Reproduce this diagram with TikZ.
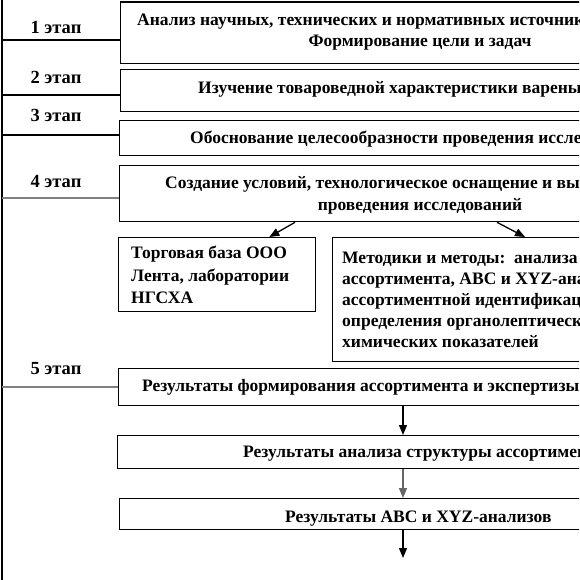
\documentclass[tikz,border=0pt]{standalone}
\usepackage{fontspec}
\setmainfont{Liberation Serif}
\usetikzlibrary{arrows.meta}
\tikzset{
  box/.style={draw, line width=1.3pt, rectangle, inner sep=0pt, anchor=north west},
  txt/.style={inner sep=0pt, font=\bfseries\fontsize{17.5}{21}\selectfont},
  lt/.style={txt, anchor=base west},
  ct/.style={txt, anchor=base},
  stg/.style={inner sep=0pt, anchor=base, font=\bfseries\fontsize{18.5}{21}\selectfont},
  sep/.style={line width=1.3pt},
  gsep/.style={line width=1.8pt, draw=black!50},
  arr/.style={line width=1.3pt, -{Triangle[length=10pt,width=8pt]}},
}
\begin{document}
\begin{tikzpicture}[x=1pt,y=-1pt]
\useasboundingbox (0,0) rectangle (579,580);
\fill[white] (0,0) rectangle (579,580);
\clip (0,0) rectangle (579,580);
% left frame line
\draw[sep] (2,0) -- (2,580);
% stage labels and separators
\node[stg] (s1) at (56,34) {1 этап};
\node[stg] (s2) at (56,84) {2 этап};
\node[stg] (s3) at (56,122) {3 этап};
\node[stg] (s4) at (56,187) {4 этап};
\node[stg] (s5) at (56,374) {5 этап};
\draw[sep] (2,40) -- (120,40);
\draw[sep] (2,95) -- (120,95);
\draw[sep] (2,135) -- (119,135);
\draw[gsep] (2,198) -- (119,198);
\draw[gsep] (2,387) -- (118,387);
% boxes
\node[box, minimum width=600pt, minimum height=61pt] (b1) at (120,2) {};
\draw[line width=2.4pt] (b1.north west) -- (b1.north east);
\node[box, minimum width=600pt, minimum height=42pt] (b2) at (120,69) {};
\node[box, minimum width=600pt, minimum height=35pt] (b3) at (119,120) {};
\node[box, minimum width=600pt, minimum height=56pt] (b4) at (119,165) {};
\node[box, minimum width=197pt, minimum height=74pt] (torg) at (118,237) {};
\node[box, minimum width=400pt, minimum height=124pt] (met) at (332,237) {};
\node[box, minimum width=600pt, minimum height=37pt] (b5) at (118,368) {};
\node[box, minimum width=600pt, minimum height=33pt] (b6) at (117,435) {};
\node[box, minimum width=600pt, minimum height=31pt] (b7) at (119,498) {};
% texts
\node[lt] (t1a) at (137,26) {Анализ научных, технических и нормативных источников информации.};
\node[ct] (t1b) at (420,47) {Формирование цели и задач};
\node[lt] (t2) at (198,94) {Изучение товароведной характеристики вареных колбас};
\node[lt] (t3) at (190,143) {Обоснование целесообразности проведения исследований};
\node[lt] (t4a) at (165,188) {Создание условий, технологическое оснащение и выбор методик};
\node[ct] (t4b) at (420,210) {проведения исследований};
\node[lt] (tt1) at (131,258) {Торговая база ООО};
\node[lt] (tt2) at (131,281) {Лента, лаборатории};
\node[lt] (tt3) at (131,303) {НГСХА};
\node[lt] (tm1) at (342,263) {Методики и методы:\ \ анализа структуры};
\node[lt] (tm2) at (342,284) {ассортимента, ABC и XYZ-анализов,};
\node[lt] (tm3) at (342,305) {ассортиментной идентификации,};
\node[lt] (tm4) at (342,326) {определения органолептических и физико-};
\node[lt] (tm5) at (342,347) {химических показателей};
\node[lt] (t5) at (142,391) {Результаты формирования ассортимента и экспертизы качества};
\node[lt] (t6) at (243,457) {Результаты анализа структуры ассортимента};
\node[lt] (t7) at (285,522) {Результаты ABC и XYZ-анализов};
% connectors
\draw[arr] ([xshift=176pt]b4.south west) -- ([xshift=-47pt]torg.north east);
\draw[arr] ([xshift=378pt]b4.south west) -- ([xshift=193pt]met.north west);
\draw[arr] ([xshift=285pt]b5.south west) -- ([xshift=285pt]b5.south west |- b6.north);
\draw[arr, draw=black!60] ([xshift=286pt]b6.south west) -- ([xshift=286pt]b6.south west |- b7.north);
\coordinate (end) at (403,558);
\draw[arr] ([xshift=284pt]b7.south west) -- (end);
\end{tikzpicture}
\end{document}
